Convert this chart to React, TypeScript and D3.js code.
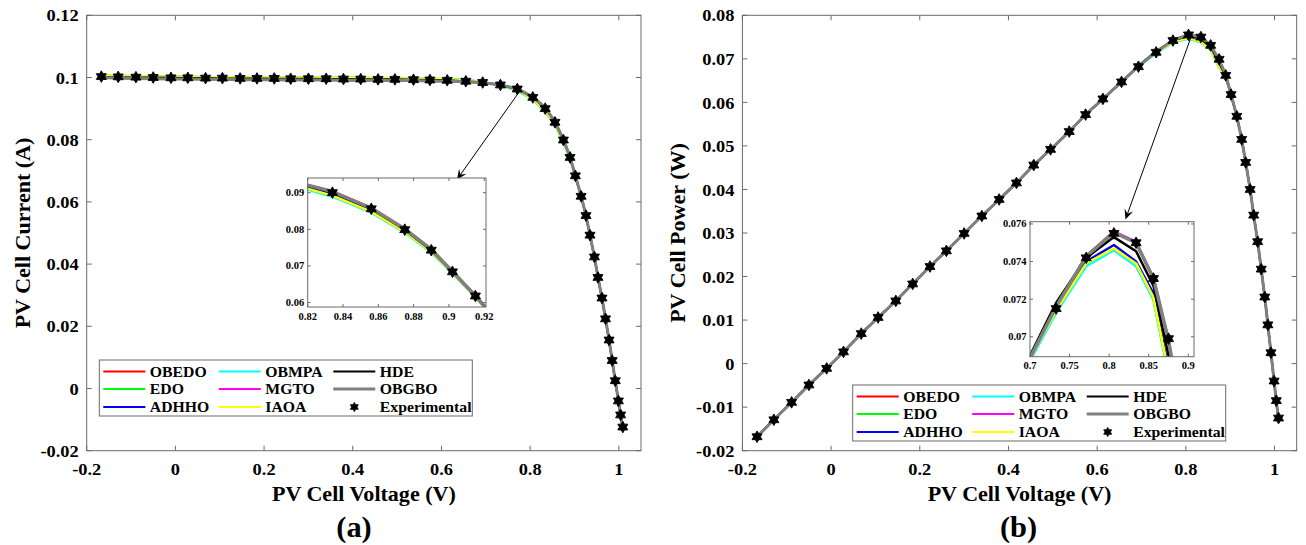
import React from 'react';
import * as d3 from 'd3';

// ---------------- DATA ----------------
const V = [-0.167, -0.129, -0.089, -0.05, -0.01, 0.028, 0.068, 0.106, 0.146, 0.184, 0.223, 0.26, 0.3, 0.34, 0.379, 0.418, 0.457, 0.495, 0.537, 0.574, 0.613, 0.655, 0.693, 0.733, 0.771, 0.806, 0.834, 0.856, 0.875, 0.89, 0.902, 0.915, 0.926, 0.935, 0.945, 0.953, 0.962, 0.97, 0.978, 0.985, 0.992, 0.999, 1.004, 1.009];

const I_EXP = [0.1003, 0.1002, 0.1001, 0.1, 0.0999, 0.0999, 0.0998, 0.0998, 0.0997, 0.0997, 0.0997, 0.0996, 0.0996, 0.0996, 0.0995, 0.0995, 0.0994, 0.0994, 0.0993, 0.0992, 0.0991, 0.0988, 0.0984, 0.0976, 0.0963, 0.0936, 0.09, 0.0856, 0.0799, 0.0743, 0.0684, 0.0618, 0.0556, 0.0493, 0.0423, 0.0357, 0.0291, 0.0224, 0.0156, 0.009, 0.0025, -0.004, -0.0085, -0.0124];

const P_EXP = [-0.0168, -0.0129, -0.0089, -0.0049, -0.0011, 0.0027, 0.0069, 0.0106, 0.0144, 0.0183, 0.0223, 0.0259, 0.0299, 0.0339, 0.0377, 0.0415, 0.0456, 0.0492, 0.0533, 0.0572, 0.0608, 0.0647, 0.0682, 0.0715, 0.0742, 0.0755, 0.075, 0.0731, 0.0699, 0.0662, 0.0618, 0.0568, 0.0515, 0.0462, 0.04, 0.0341, 0.028, 0.0217, 0.0153, 0.0089, 0.0025, -0.004, -0.0085, -0.0125];

// model currents
const I_TOP = [0.0999, 0.0998, 0.0997, 0.0996, 0.0995, 0.0995, 0.0994, 0.0994, 0.0993, 0.0993, 0.0993, 0.0992, 0.0992, 0.0992, 0.0991, 0.0991, 0.0991, 0.099, 0.099, 0.0989, 0.0988, 0.0986, 0.0983, 0.0977, 0.0964, 0.0938, 0.0903, 0.0858, 0.0801, 0.0745, 0.0685, 0.0619, 0.0556, 0.0493, 0.0423, 0.0357, 0.0291, 0.0224, 0.0156, 0.009, 0.0025, -0.004, -0.0086, -0.0126];
const I_HDE = [0.1002, 0.1001, 0.1, 0.1, 0.0999, 0.0998, 0.0998, 0.0997, 0.0997, 0.0997, 0.0996, 0.0996, 0.0996, 0.0995, 0.0995, 0.0994, 0.0994, 0.0994, 0.0993, 0.0992, 0.0991, 0.0988, 0.0984, 0.0976, 0.0962, 0.0936, 0.0901, 0.0856, 0.0799, 0.0743, 0.0684, 0.0618, 0.0556, 0.0493, 0.0423, 0.0357, 0.0291, 0.0224, 0.0156, 0.009, 0.0025, -0.004, -0.0086, -0.0127];
const I_ADHHO = [0.1005, 0.1004, 0.1003, 0.1002, 0.1001, 0.1001, 0.1, 0.1, 0.0999, 0.0999, 0.0999, 0.0998, 0.0998, 0.0998, 0.0997, 0.0997, 0.0996, 0.0996, 0.0995, 0.0994, 0.0993, 0.099, 0.0985, 0.0975, 0.096, 0.0932, 0.0895, 0.0851, 0.0795, 0.0741, 0.0683, 0.0617, 0.0556, 0.0493, 0.0423, 0.0357, 0.0291, 0.0224, 0.0156, 0.009, 0.0025, -0.0041, -0.0087, -0.0128];
const I_IAOA = [0.1007, 0.1006, 0.1005, 0.1004, 0.1003, 0.1003, 0.1002, 0.1002, 0.1001, 0.1001, 0.1001, 0.1, 0.1, 0.1, 0.0999, 0.0999, 0.0998, 0.0998, 0.0997, 0.0996, 0.0995, 0.0991, 0.0986, 0.0975, 0.0959, 0.093, 0.0892, 0.0848, 0.0793, 0.0739, 0.0681, 0.0616, 0.0555, 0.0493, 0.0423, 0.0357, 0.0291, 0.0224, 0.0156, 0.009, 0.0024, -0.0041, -0.0088, -0.013];
const I_EDO = [0.1007, 0.1006, 0.1005, 0.1004, 0.1003, 0.1003, 0.1002, 0.1002, 0.1001, 0.1001, 0.1001, 0.1, 0.1, 0.1, 0.0999, 0.0999, 0.0998, 0.0998, 0.0997, 0.0996, 0.0995, 0.0992, 0.0986, 0.0974, 0.0958, 0.0929, 0.0891, 0.0847, 0.0792, 0.0738, 0.068, 0.0616, 0.0555, 0.0493, 0.0423, 0.0357, 0.0291, 0.0224, 0.0156, 0.009, 0.0024, -0.0042, -0.0089, -0.0131];
const I_OBMPA = [0.1007, 0.1006, 0.1005, 0.1004, 0.1003, 0.1003, 0.1002, 0.1002, 0.1001, 0.1001, 0.1001, 0.1, 0.1, 0.1, 0.0999, 0.0999, 0.0998, 0.0998, 0.0997, 0.0996, 0.0995, 0.0992, 0.0986, 0.0974, 0.0957, 0.0928, 0.0889, 0.0846, 0.0791, 0.0737, 0.068, 0.0616, 0.0555, 0.0493, 0.0423, 0.0357, 0.0291, 0.0224, 0.0156, 0.009, 0.0024, -0.0042, -0.009, -0.0133];

// model powers
const P_TOP = [-0.0168, -0.0129, -0.0089, -0.0049, -0.0011, 0.0027, 0.0069, 0.0106, 0.0144, 0.0183, 0.0223, 0.0259, 0.0299, 0.0339, 0.0377, 0.0415, 0.0456, 0.0492, 0.0533, 0.0572, 0.0608, 0.0647, 0.0683, 0.0716, 0.07428, 0.07555, 0.075, 0.0731, 0.0698, 0.0663, 0.0619, 0.0568, 0.0515, 0.0462, 0.04, 0.0341, 0.028, 0.0217, 0.0153, 0.0089, 0.0025, -0.004, -0.0086, -0.0127];
const P_MGTO = [-0.0168, -0.0129, -0.0089, -0.0049, -0.0011, 0.0027, 0.0069, 0.0106, 0.0144, 0.0183, 0.0223, 0.0259, 0.0299, 0.0339, 0.0377, 0.0415, 0.0456, 0.0492, 0.0533, 0.0572, 0.0608, 0.0647, 0.0683, 0.0716, 0.0743, 0.0756, 0.07505, 0.0731, 0.0697, 0.0663, 0.0619, 0.0568, 0.0515, 0.0462, 0.04, 0.0341, 0.028, 0.0217, 0.0153, 0.0089, 0.0025, -0.004, -0.0086, -0.0127];
const P_HDE = [-0.0168, -0.0129, -0.0089, -0.0049, -0.0011, 0.0027, 0.0069, 0.0106, 0.0144, 0.0183, 0.0223, 0.0259, 0.0299, 0.0339, 0.0377, 0.0415, 0.0456, 0.0492, 0.0533, 0.0572, 0.0608, 0.0647, 0.0684, 0.0718, 0.0742, 0.0753, 0.07455, 0.0727, 0.069, 0.066, 0.0617, 0.0568, 0.0515, 0.0462, 0.04, 0.0341, 0.028, 0.0217, 0.0153, 0.0089, 0.0025, -0.004, -0.0086, -0.0128];
const P_ADHHO = [-0.0168, -0.0129, -0.0089, -0.0049, -0.0011, 0.0027, 0.0069, 0.0106, 0.0144, 0.0183, 0.0223, 0.0259, 0.0299, 0.0339, 0.0377, 0.0415, 0.0456, 0.0492, 0.0533, 0.0572, 0.0608, 0.0647, 0.0683, 0.0715, 0.074, 0.07488, 0.074, 0.0723, 0.0683, 0.0658, 0.0616, 0.0567, 0.0515, 0.0462, 0.04, 0.0341, 0.028, 0.0217, 0.0153, 0.0089, 0.0025, -0.0041, -0.0087, -0.013];
const P_IAOA = [-0.0168, -0.0129, -0.0089, -0.0049, -0.0011, 0.0027, 0.0069, 0.0106, 0.0144, 0.0183, 0.0223, 0.0259, 0.0299, 0.0339, 0.0377, 0.0415, 0.0456, 0.0492, 0.0533, 0.0572, 0.0608, 0.0647, 0.0683, 0.0714, 0.0739, 0.0747, 0.0739, 0.0721, 0.0681, 0.0657, 0.0615, 0.0567, 0.0515, 0.0462, 0.04, 0.0341, 0.028, 0.0217, 0.0153, 0.0089, 0.0024, -0.0041, -0.0088, -0.0132];
const P_EDO = [-0.0168, -0.0129, -0.0089, -0.0049, -0.0011, 0.0027, 0.0069, 0.0106, 0.0144, 0.0183, 0.0223, 0.0259, 0.0299, 0.0339, 0.0377, 0.0415, 0.0456, 0.0492, 0.0533, 0.0572, 0.0608, 0.0647, 0.0682, 0.0713, 0.0738, 0.07465, 0.0738, 0.072, 0.068, 0.0657, 0.0615, 0.0567, 0.0515, 0.0462, 0.04, 0.0341, 0.028, 0.0217, 0.0153, 0.0089, 0.0024, -0.0042, -0.0089, -0.0133];
const P_OBMPA = [-0.0168, -0.0129, -0.0089, -0.0049, -0.0011, 0.0027, 0.0069, 0.0106, 0.0144, 0.0183, 0.0223, 0.0259, 0.0299, 0.0339, 0.0377, 0.0415, 0.0456, 0.0492, 0.0533, 0.0572, 0.0608, 0.0647, 0.0682, 0.0713, 0.07375, 0.0746, 0.07375, 0.072, 0.068, 0.0657, 0.0615, 0.0567, 0.0515, 0.0462, 0.04, 0.0341, 0.028, 0.0217, 0.0153, 0.0089, 0.0024, -0.0042, -0.009, -0.0135];

const MODELS = ['OBEDO', 'EDO', 'ADHHO', 'OBMPA', 'MGTO', 'IAOA', 'HDE', 'OBGBO'];
const COLORS = ['#ff0000', '#00ff00', '#0000ff', '#00ffff', '#ff00ff', '#ffff00', '#000000', '#808080'];
const I_MODELS = [I_TOP, I_EDO, I_ADHHO, I_OBMPA, I_TOP, I_IAOA, I_HDE, I_TOP];
const P_MODELS = [P_TOP, P_EDO, P_ADHHO, P_OBMPA, P_MGTO, P_IAOA, P_HDE, P_TOP];
const EXP_LABEL = 'Experimental';

const X_TICKS = [-0.2, 0, 0.2, 0.4, 0.6, 0.8, 1];
const I_TICKS = [-0.02, 0, 0.02, 0.04, 0.06, 0.08, 0.1, 0.12];
const P_TICKS = [-0.02, -0.01, 0, 0.01, 0.02, 0.03, 0.04, 0.05, 0.06, 0.07, 0.08];
const INSET_A_X = [0.82, 0.84, 0.86, 0.88, 0.9, 0.92];
const INSET_A_Y = [0.06, 0.07, 0.08, 0.09];
const INSET_B_X = [0.7, 0.75, 0.8, 0.85, 0.9];
const INSET_B_Y = [0.07, 0.072, 0.074, 0.076];

// ---------------- STYLE ----------------
const FONT = "'Liberation Serif', 'Times New Roman', serif";
const SX = 1.05;
const AX = '#6a6a6a';

const fmt = (v: number) => String(+v.toFixed(4));

function hexagram(r: number) {
  const pts: string[] = [];
  for (let k = 0; k < 12; k++) {
    const a = -Math.PI / 2 + (k * Math.PI) / 6;
    const rr = k % 2 === 0 ? r : r / Math.sqrt(3);
    pts.push(`${(rr * Math.cos(a)).toFixed(2)},${(rr * Math.sin(a)).toFixed(2)}`);
  }
  return 'M' + pts.join('L') + 'Z';
}

const Txt = ({ x, y, size, anchor = 'middle', rot = 0, dy, children }: any) => (
  <text
    transform={`translate(${x},${y}) rotate(${rot}) scale(${SX},1)`}
    fontSize={size}
    textAnchor={anchor}
    dy={dy}
    fontFamily={FONT}
    fontWeight="bold"
    fill="#000"
  >
    {children}
  </text>
);

type Rect = { x0: number; x1: number; y0: number; y1: number };

function Frame({ x, y, r, xt, yt, tick, fs, xLabGap, yLabGap }: any) {
  return (
    <g>
      <rect x={r.x0} y={r.y0} width={r.x1 - r.x0} height={r.y1 - r.y0} fill="none" stroke={AX} strokeWidth={1} />
      {xt.map((t: number) => (
        <g key={'x' + t}>
          <line x1={x(t)} x2={x(t)} y1={r.y1} y2={r.y1 - tick} stroke={AX} />
          <line x1={x(t)} x2={x(t)} y1={r.y0} y2={r.y0 + tick} stroke={AX} />
          <Txt x={x(t)} y={r.y1 + xLabGap} size={fs}>{fmt(t)}</Txt>
        </g>
      ))}
      {yt.map((t: number) => (
        <g key={'y' + t}>
          <line x1={r.x0} x2={r.x0 + tick} y1={y(t)} y2={y(t)} stroke={AX} />
          <line x1={r.x1} x2={r.x1 - tick} y1={y(t)} y2={y(t)} stroke={AX} />
          <Txt x={r.x0 - yLabGap} y={y(t)} size={fs} anchor="end" dy="0.35em">{fmt(t)}</Txt>
        </g>
      ))}
    </g>
  );
}

function Panel(props: any) {
  const { id, r, yd, exp, models, yTicks, yLabel, yLabelX, inset, legend, arrow, caption, captionX } = props;
  const x = d3.scaleLinear().domain([-0.2, 1.05]).range([r.x0, r.x1]);
  const y = d3.scaleLinear().domain(yd).range([r.y1, r.y0]);
  const line = (sx: any, sy: any) => d3.line<number>().x((_, i) => sx(V[i])).y((d) => sy(d));
  const mainLine = line(x, y);

  const ir: Rect = inset.r;
  const ix = d3.scaleLinear().domain(inset.xd).range([ir.x0, ir.x1]);
  const iy = d3.scaleLinear().domain(inset.yd).range([ir.y1, ir.y0]);
  const insetLine = line(ix, iy);

  const star = hexagram(5.8);
  const starI = hexagram(5.8);
  const starL = hexagram(4.6);

  // arrow
  const sx0 = x(arrow[0][0]), sy0 = y(arrow[0][1]);
  const ex = x(arrow[1][0]), ey = y(arrow[1][1]);
  const len = Math.hypot(ex - sx0, ey - sy0);
  const ux = (ex - sx0) / len, uy = (ey - sy0) / len;
  const nx = -uy, ny = ux;
  const L = 10, W = 4.5;
  const head = `M${ex},${ey}L${ex - ux * L + nx * W},${ey - uy * L + ny * W}L${ex - ux * L * 0.6},${ey - uy * L * 0.6}L${ex - ux * L - nx * W},${ey - uy * L - ny * W}Z`;

  const lw = (i: number) => (MODELS[i] === 'OBGBO' ? 3 : 2);

  const cols = [4, 119.5, 234];
  const rows = [11.5, 29, 47];
  const entries = [...MODELS, EXP_LABEL];

  return (
    <g>
      <defs>
        <clipPath id={id + 'main'}>
          <rect x={r.x0} y={r.y0} width={r.x1 - r.x0} height={r.y1 - r.y0} />
        </clipPath>
        <clipPath id={id + 'ins'}>
          <rect x={ir.x0} y={ir.y0} width={ir.x1 - ir.x0} height={ir.y1 - ir.y0} />
        </clipPath>
      </defs>
      <g clipPath={`url(#${id}main)`}>
        {models.map((m: number[], i: number) => (
          <path key={i} d={mainLine(m) || ''} fill="none" stroke={COLORS[i]} strokeWidth={lw(i)} strokeLinejoin="round" />
        ))}
        {exp.map((v: number, i: number) => (
          <path key={'s' + i} d={star} transform={`translate(${x(V[i])},${y(v)})`} fill="#000" stroke="#000" strokeWidth={0.9} strokeLinejoin="round" />
        ))}
      </g>
      <Frame x={x} y={y} r={r} xt={X_TICKS} yt={yTicks} tick={5} fs={17.5} xLabGap={24} yLabGap={8} />
      <Txt x={(r.x0 + r.x1) / 2} y={501} size={21}>PV Cell Voltage (V)</Txt>
      <Txt x={yLabelX} y={(r.y0 + r.y1) / 2} size={21} rot={-90}>{yLabel}</Txt>
      <Txt x={captionX} y={537} size={29}>{caption}</Txt>

      {/* arrow */}
      <line x1={sx0} y1={sy0} x2={ex - ux * L * 0.6} y2={ey - uy * L * 0.6} stroke="#000" strokeWidth={1} />
      <path d={head} fill="#000" />

      {/* inset */}
      <rect x={ir.x0} y={ir.y0} width={ir.x1 - ir.x0} height={ir.y1 - ir.y0} fill="#fff" />
      <g clipPath={`url(#${id}ins)`}>
        {inset.models.map((m: number[], i: number) => (
          <path key={i} d={insetLine(m) || ''} fill="none" stroke={COLORS[i]} strokeWidth={lw(i) + 0.5} strokeLinejoin="round" />
        ))}
        {inset.exp.map((v: number, i: number) =>
          V[i] >= inset.xd[0] - 0.01 && V[i] <= inset.xd[1] + 0.01 ? (
            <path key={'s' + i} d={starI} transform={`translate(${ix(V[i])},${iy(v)})`} fill="#000" stroke="#000" strokeWidth={0.9} strokeLinejoin="round" />
          ) : null
        )}
      </g>
      <Frame x={ix} y={iy} r={ir} xt={inset.xt} yt={inset.yt} tick={3} fs={10} xLabGap={12.5} yLabGap={3.5} />

      {/* legend */}
      <g transform={`translate(${legend[0]},${legend[1]})`}>
        <rect x={0} y={0} width={373} height={56} fill="#fff" stroke={AX} strokeWidth={1} />
        {entries.map((name, k) => {
          const c = Math.floor(k / 3), rr = k % 3;
          const lx = cols[c], ly = rows[rr];
          return (
            <g key={name}>
              {k < 8 ? (
                <line x1={lx} x2={lx + 42} y1={ly} y2={ly} stroke={COLORS[k]} strokeWidth={lw(k)} />
              ) : (
                <path d={starL} transform={`translate(${lx + 21},${ly})`} fill="#000" stroke="#000" strokeWidth={0.8} strokeLinejoin="round" />
              )}
              <Txt x={lx + 46.5} y={ly} size={15} anchor="start" dy="0.35em">{name}</Txt>
            </g>
          );
        })}
      </g>
    </g>
  );
}

export default function App() {
  const rA: Rect = { x0: 86.7, x1: 641, y0: 15.3, y1: 450.7 };
  const rB: Rect = { x0: 742.4, x1: 1296.7, y0: 15.3, y1: 450.7 };
  return (
    <svg width={1306} height={545} style={{ position: 'absolute', left: 0, top: 0, background: '#fff' }}>
      <rect width={1306} height={545} fill="#fff" />
      <Panel
        id="a"
        r={rA}
        yd={[-0.02, 0.12]}
        exp={I_EXP}
        models={I_MODELS}
        yTicks={I_TICKS}
        yLabel="PV Cell Current (A)"
        yLabelX={30}
        caption="(a)"
        captionX={354}
        arrow={[[0.775, 0.0953], [0.635, 0.0672]]}
        legend={[99.3, 360]}
        inset={{
          r: { x0: 307.7, x1: 486, y0: 178, y1: 307 },
          xd: [0.82, 0.921],
          yd: [0.0588, 0.094],
          xt: INSET_A_X,
          yt: INSET_A_Y,
          models: I_MODELS,
          exp: I_EXP,
        }}
      />
      <Panel
        id="b"
        r={rB}
        yd={[-0.02, 0.08]}
        exp={P_EXP}
        models={P_MODELS}
        yTicks={P_TICKS}
        yLabel="PV Cell Power (W)"
        yLabelX={685}
        caption="(b)"
        captionX={1018.5}
        arrow={[[0.8124, 0.0752], [0.6638, 0.0331]]}
        legend={[852.7, 385]}
        inset={{
          r: { x0: 1030, x1: 1194, y0: 221.7, y1: 356.7 },
          xd: [0.7, 0.9072],
          yd: [0.06894, 0.07612],
          xt: INSET_B_X,
          yt: INSET_B_Y,
          models: P_MODELS,
          exp: P_EXP,
        }}
      />
    </svg>
  );
}
